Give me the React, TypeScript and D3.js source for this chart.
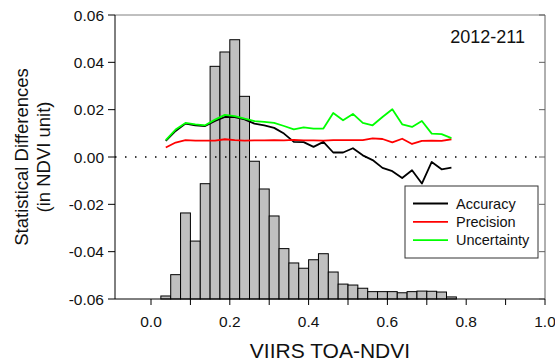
import React from "react";
import * as d3 from "d3";

const binStarts = d3.range(30).map((i) => 0.025 + i * 0.025);
const histPercent = [
  0.16, 1.29, 4.56, 3.07, 6.11, 12.33, 13.09, 13.74, 10.74, 7.3, 5.83, 4.4, 2.67, 1.91, 1.63,
  2.08, 2.4, 1.43, 0.79, 0.74, 0.57, 0.39, 0.39, 0.39, 0.33, 0.39, 0.42, 0.41, 0.37, 0.11,
];
const centers = d3.range(30).map((i) => 0.0375 + i * 0.025);
const accuracy = [
  0.0068, 0.011, 0.0141, 0.0134, 0.0131, 0.0152, 0.0169, 0.0169, 0.0159, 0.0141, 0.0134, 0.0123,
  0.0099, 0.0064, 0.0063, 0.0043, 0.0064, 0.0019, 0.0019, 0.0037, 0.0007, -0.0013, -0.0046,
  -0.006, -0.0089, -0.0056, -0.0112, -0.0021, -0.0052, -0.0045,
];
const precision = [
  0.004, 0.0061, 0.0071, 0.0069, 0.0069, 0.0069, 0.0075, 0.0071, 0.0069, 0.007, 0.007, 0.0071,
  0.007, 0.0072, 0.007, 0.007, 0.0069, 0.0071, 0.0071, 0.0071, 0.0071, 0.0079, 0.0076, 0.0062,
  0.0077, 0.0055, 0.0068, 0.0069, 0.0068, 0.0075,
];
const uncertainty = [
  0.0071, 0.0116, 0.0144, 0.0138, 0.0134, 0.0158, 0.0178, 0.0173, 0.0162, 0.0152, 0.0148, 0.0144,
  0.0131, 0.0117, 0.0125, 0.012, 0.012, 0.0186, 0.0155, 0.0182, 0.0144, 0.0134, 0.0169, 0.0202,
  0.0138, 0.0127, 0.0152, 0.0099, 0.0097, 0.008,
];
const xTicks = [0, 0.1, 0.2, 0.3, 0.4, 0.5, 0.6, 0.7, 0.8, 0.9, 1.0];
const yTicks = [-0.06, -0.04, -0.02, 0, 0.02, 0.04, 0.06];
const seriesNames = ["Accuracy", "Precision", "Uncertainty"];
const seriesColors = ["#000000", "#ff0000", "#00ff00"];
const label = "2012-211";

const FONT = "'Liberation Sans', Arial, sans-serif";

export default function App() {
  const L = 115, R = 545, T = 15, B = 299;
  const x = d3.scaleLinear().domain([-0.0914, 1.0]).range([L, R]);
  const y = d3.scaleLinear().domain([-0.06, 0.06]).range([B, T]);
  const histTop = 15.05;
  const h = d3.scaleLinear().domain([0, histTop]).range([B, T]);
  const line = d3
    .line<number>()
    .x((_, i) => x(centers[i]))
    .y((d) => y(d));
  const series = [accuracy, precision, uncertainty];

  return (
    <svg
      width={555}
      height={364}
      style={{ position: "absolute", left: 0, top: 0, background: "#fff" }}
      fontFamily={FONT}
    >
      <rect x={0} y={0} width={555} height={364} fill="#fff" />
      {/* histogram */}
      {binStarts.map((b, i) => (
        <rect
          key={i}
          x={x(b)}
          y={h(histPercent[i])}
          width={x(b + 0.025) - x(b)}
          height={B - h(histPercent[i])}
          fill="#c0c0c0"
          stroke="#000"
          strokeWidth={1}
        />
      ))}
      {/* zero dotted line */}
      <line
        x1={L}
        x2={R}
        y1={y(0)}
        y2={y(0)}
        stroke="#000"
        strokeWidth={1.5}
        strokeDasharray="1.5,8.5"
      />
      {/* series */}
      {series.map((s, i) => (
        <path
          key={i}
          d={line(s) || ""}
          fill="none"
          stroke={seriesColors[i]}
          strokeWidth={1.8}
          strokeLinejoin="round"
        />
      ))}
      {/* frame */}
      <line x1={L} x2={R} y1={T} y2={T} stroke="#808080" strokeWidth={1} />
      <line x1={R} x2={R} y1={T} y2={B} stroke="#606060" strokeWidth={1} />
      <line x1={L} x2={L} y1={T} y2={B} stroke="#000" strokeWidth={1} />
      <line x1={L} x2={R} y1={B} y2={B} stroke="#000" strokeWidth={1} />
      {/* y ticks */}
      {yTicks.map((t) => (
        <g key={t}>
          <line x1={L - 7} x2={L} y1={y(t)} y2={y(t)} stroke="#000" />
          <line x1={R - 6} x2={R} y1={y(t)} y2={y(t)} stroke="#606060" />
          <text
            x={L - 11}
            y={y(t)}
            dy="0.36em"
            textAnchor="end"
            fontSize={15.5}
            fill="#111"
          >
            {t.toFixed(2)}
          </text>
        </g>
      ))}
      {/* x ticks */}
      {xTicks.map((t, i) => (
        <g key={t}>
          <line x1={x(t)} x2={x(t)} y1={B} y2={B + 6} stroke="#000" />
          {i % 2 === 0 && (
            <text x={x(t)} y={327} textAnchor="middle" fontSize={15.5} fill="#111">
              {t.toFixed(1)}
            </text>
          )}
        </g>
      ))}
      {/* axis titles */}
      <text x={330} y={358} textAnchor="middle" fontSize={21} fill="#111">
        VIIRS TOA-NDVI
      </text>
      <text
        transform={`translate(28,${(T + B) / 2}) rotate(-90)`}
        textAnchor="middle"
        fontSize={18.5}
        fill="#111"
      >
        Statistical Differences
      </text>
      <text
        transform={`translate(50,${(T + B) / 2}) rotate(-90)`}
        textAnchor="middle"
        fontSize={18.5}
        fill="#111"
      >
        (in NDVI unit)
      </text>
      {/* label */}
      <text x={525} y={43} textAnchor="end" fontSize={18} fill="#111">
        {label}
      </text>
      {/* legend */}
      <rect x={405} y={186} width={133} height={72} fill="#fff" stroke="#333" strokeWidth={1} />
      {seriesNames.map((n, i) => (
        <g key={n}>
          <line
            x1={413}
            x2={448}
            y1={203.5 + i * 18.3}
            y2={203.5 + i * 18.3}
            stroke={seriesColors[i]}
            strokeWidth={1.8}
          />
          <text x={456} y={203.5 + i * 18.3} dy="0.35em" fontSize={14.5} fill="#111">
            {n}
          </text>
        </g>
      ))}
    </svg>
  );
}
